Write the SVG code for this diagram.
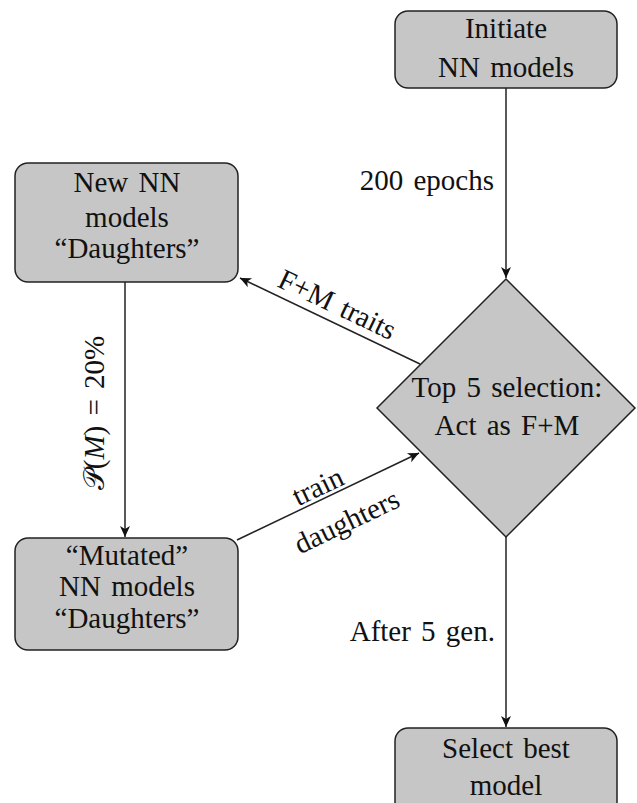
<svg xmlns="http://www.w3.org/2000/svg" width="637" height="803" viewBox="0 0 637 803">
<style>
.box{fill:#c5c6c5;stroke:#222;stroke-width:1.5}
.t{font-family:"Liberation Serif","DejaVu Serif",serif;font-size:29px;fill:#111;text-anchor:middle;word-spacing:3px}
.l{font-family:"Liberation Serif","DejaVu Serif",serif;font-size:29px;fill:#111;word-spacing:3px}
.c{fill:none;stroke:#222;stroke-width:1.5}
</style>
<defs>
<marker id="ah" markerUnits="userSpaceOnUse" markerWidth="16" markerHeight="12" refX="12" refY="6" orient="auto">
<path d="M12,6 L1,1 L4,6 L1,11 Z" fill="#111"/>
</marker>
</defs>
<rect width="637" height="803" fill="#fff"/>
<g id="connectors">
<line class="c" x1="506" y1="88" x2="506" y2="278" marker-end="url(#ah)"/>
<line class="c" x1="420" y1="364" x2="240" y2="278" marker-end="url(#ah)"/>
<line class="c" x1="125" y1="282" x2="125" y2="537" marker-end="url(#ah)"/>
<line class="c" x1="237" y1="540" x2="419" y2="453" marker-end="url(#ah)"/>
<line class="c" x1="506" y1="537" x2="506" y2="727" marker-end="url(#ah)"/>
<text class="l" x="494" y="190" text-anchor="end">200 epochs</text>
<text class="t" transform="translate(337,305) rotate(25.5)" y="9">F+M traits</text>
<text class="t" transform="translate(104,413) rotate(-90)" y="0">𝒫(<tspan font-style="italic">M</tspan>) = 20%</text>
<text class="t" transform="translate(318,487) rotate(-25.5)" y="9">train</text>
<text class="t" transform="translate(347,522) rotate(-25.5)" y="9">daughters</text>
<text class="l" x="495" y="641" text-anchor="end">After 5 gen.</text>
</g>
<g id="initiate">
<rect class="box" x="395" y="11" width="222" height="77" rx="13"/>
<text class="t" x="506" y="38">Initiate</text>
<text class="t" x="506" y="77">NN models</text>
</g>
<g id="new-nn">
<rect class="box" x="15" y="163" width="223" height="119" rx="13"/>
<text class="t" x="127" y="192">New NN</text>
<text class="t" x="127" y="227">models</text>
<text class="t" x="127" y="258">“Daughters”</text>
</g>
<g id="mutated">
<rect class="box" x="15" y="538" width="223" height="112" rx="13"/>
<text class="t" x="127" y="565">“Mutated”</text>
<text class="t" x="127" y="596">NN models</text>
<text class="t" x="127" y="628">“Daughters”</text>
</g>
<g id="selection">
<polygon class="box" points="506,279 635,408 506,537 377,408"/>
<text class="t" x="507" y="397">Top 5 selection:</text>
<text class="t" x="507" y="435">Act as F+M</text>
</g>
<g id="select-best">
<rect class="box" x="395" y="728" width="222" height="90" rx="13"/>
<text class="t" x="506" y="758">Select best</text>
<text class="t" x="506" y="795">model</text>
</g>
</svg>
